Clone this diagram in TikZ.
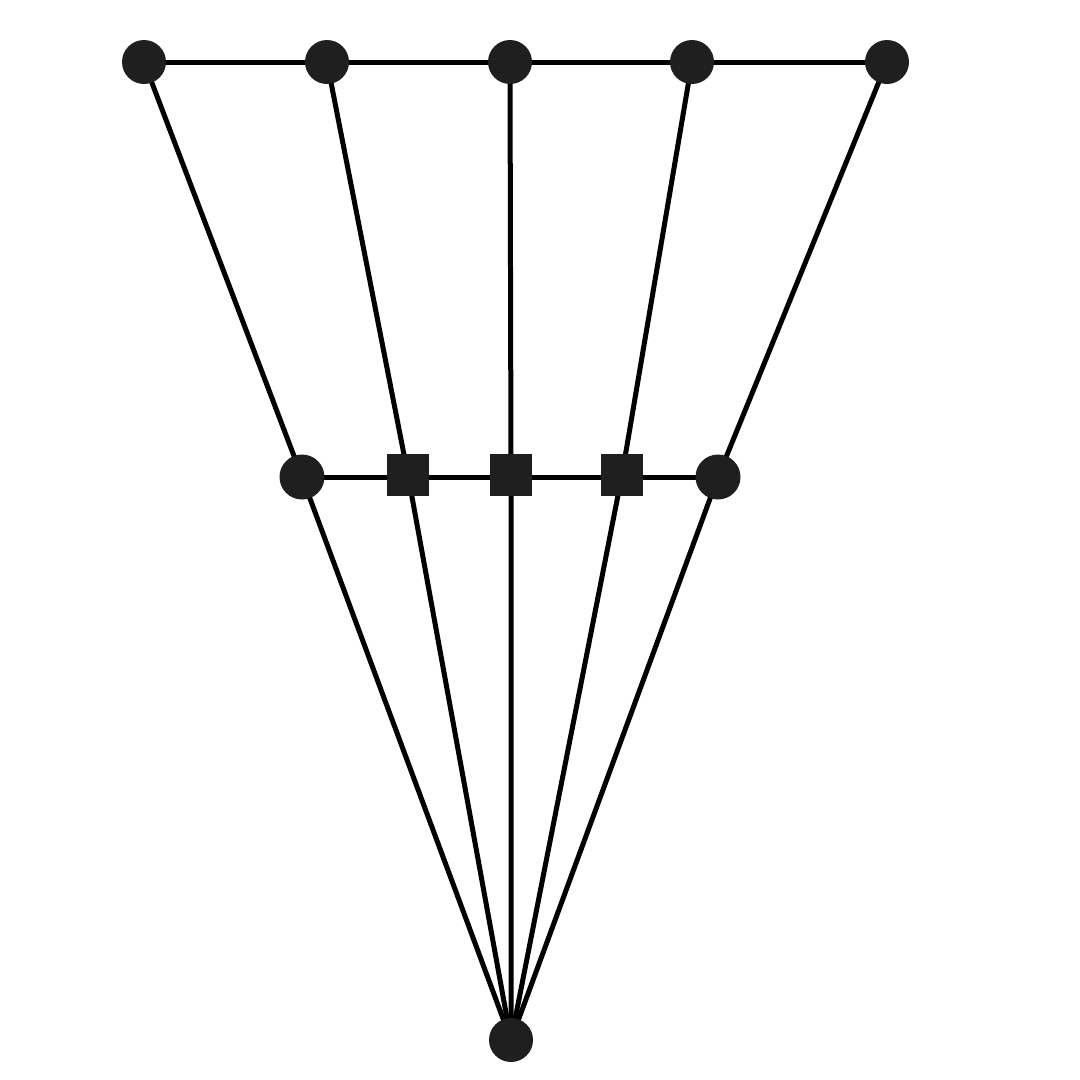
\documentclass[tikz,border=0pt]{standalone}
\begin{document}
\begin{tikzpicture}[x=1pt,y=-1pt,
  dot/.style={circle,fill=black!88,inner sep=0pt,minimum size=44pt},
  sq/.style={rectangle,fill=black!88,inner sep=0pt,minimum size=42pt},
  edge/.style={line width=5pt,black}]
\useasboundingbox (0,0) rectangle (1080,1080);
\coordinate (t1) at (144,62);
\coordinate (t2) at (327,62);
\coordinate (t3) at (510,62);
\coordinate (t4) at (692,62);
\coordinate (t5) at (887,62);
\coordinate (m1) at (302,477);
\coordinate (m2) at (408,475);
\coordinate (m3) at (511,475);
\coordinate (m4) at (622,475);
\coordinate (m5) at (718,477);
\coordinate (b) at (511,1040);
\draw[edge] (t1) -- (t5);
\draw[edge] (m1) -- (m5);
\foreach \i in {1,...,5}{\draw[edge] (t\i) -- (m\i) -- (b);}
\foreach \i in {1,...,5}{\node[dot] (T\i) at (t\i) {};}
\node[dot,minimum width=45pt] (M1) at (m1) {};
\node[sq] (M2) at (m2) {};
\node[sq] (M3) at (m3) {};
\node[sq] (M4) at (m4) {};
\node[dot,minimum width=45pt] (M5) at (m5) {};
\node[dot] (B) at (b) {};
\end{tikzpicture}
\end{document}
